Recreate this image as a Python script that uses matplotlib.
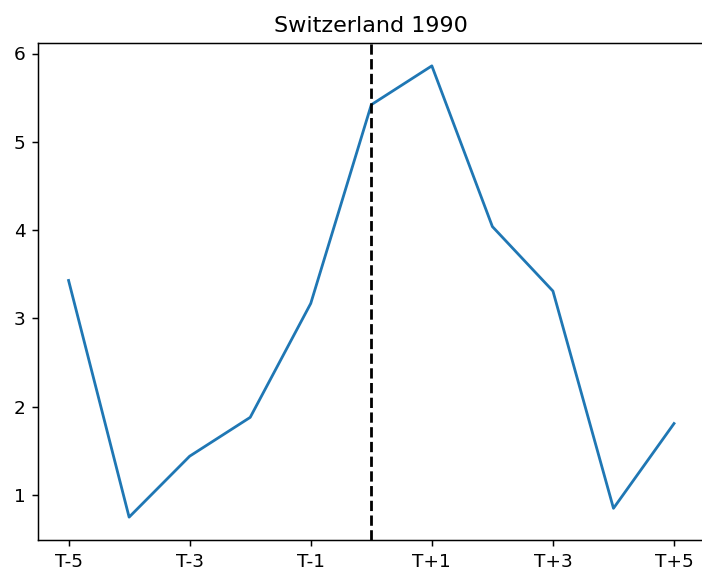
import matplotlib
matplotlib.use("Agg")
import matplotlib.pyplot as plt

x_vals = [-5, -4, -3, -2, -1, 0, 1, 2, 3, 4, 5]
y_vals = [3.43, 0.75, 1.44, 1.88, 3.17, 5.42, 5.86, 4.04, 3.31, 0.85, 1.81]
tick_pos = [-5, -3, -1, 1, 3, 5]
tick_labels = ["T-5", "T-3", "T-1", "T+1", "T+3", "T+5"]
title = "Switzerland 1990"

DPI = 133.33
fig = plt.figure(figsize=(702 / DPI, 570 / DPI), dpi=DPI)
ax = fig.add_axes([38.3 / 702, (570 - 539.7) / 570, 666 / 702, (539.7 - 43.3) / 570])
ax.plot(x_vals, y_vals, color="#1f77b4")
ax.axvline(0, color="black", linestyle="--")
ax.set_xticks(tick_pos)
ax.set_xticklabels(tick_labels)
ax.set_title(title)
fig.savefig("out.png", dpi=DPI)
